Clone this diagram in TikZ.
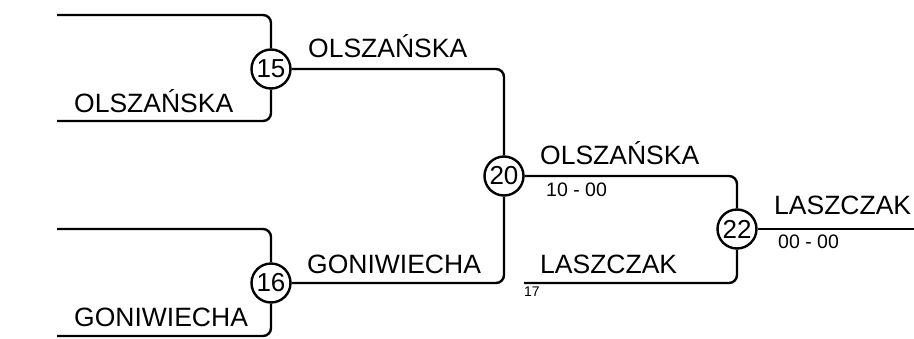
\documentclass[tikz,border=0pt]{standalone}
\usepackage{fontspec}
\setmainfont{Liberation Sans}
\tikzset{
  bline/.style={line width=2.4pt, rounded corners=8pt},
  match/.style={circle, draw, line width=2.4pt, minimum size=39pt, inner sep=0pt, font=\fontsize{26}{26}\selectfont},
  team/.style={anchor=base west, inner sep=0pt, font=\fontsize{26.5}{30}\selectfont},
  score/.style={anchor=base west, inner sep=0pt, font=\fontsize{19.5}{22}\selectfont},
  small/.style={anchor=base west, inner sep=0pt, font=\fontsize{14}{16}\selectfont}
}
\begin{document}
\begin{tikzpicture}[x=1pt, y=-1pt]
\useasboundingbox (0,0) rectangle (914,338);

% matches
\node[match] (m15) at (271,69) {15};
\node[match] (m16) at (271,283) {16};
\node[match] (m20) at (504,176) {20};
\node[match] (m22) at (737,229) {22};

% free ends
\coordinate (t15) at (57,15);
\coordinate (b15) at (57,121);
\coordinate (t16) at (57,229);
\coordinate (b16) at (57,336);
\coordinate (l17) at (524,283);
\coordinate (out) at (914,229);

\draw [bline] (t15) -| (m15);
\draw [bline] (b15) -| (m15);
\draw [bline] (t16) -| (m16);
\draw [bline] (b16) -| (m16);
\draw [bline] (m15) -| (m20);
\draw [bline] (m16) -| (m20);
\draw [bline] (m20) -| (m22);
\draw [bline] (l17) -| (m22);
\draw [bline] (m22) -- (out);

% names
\node[team] (n1) at (74,112) {OLSZAŃSKA};
\node[team] (n2) at (74,326) {GONIWIECHA};
\node[team] (n3) at (308,57) {OLSZAŃSKA};
\node[team] (n4) at (307,273) {GONIWIECHA};
\node[team] (n5) at (540,164) {OLSZAŃSKA};
\node[team] (n6) at (540,273) {LASZCZAK};
\node[team] (n7) at (774,214) {LASZCZAK};

% scores
\node[score] (s1) at (546,196) {10 - 00};
\node[score] (s2) at (778,248) {00 - 00};
\node[small] (s3) at (524,296) {17};
\end{tikzpicture}
\end{document}
